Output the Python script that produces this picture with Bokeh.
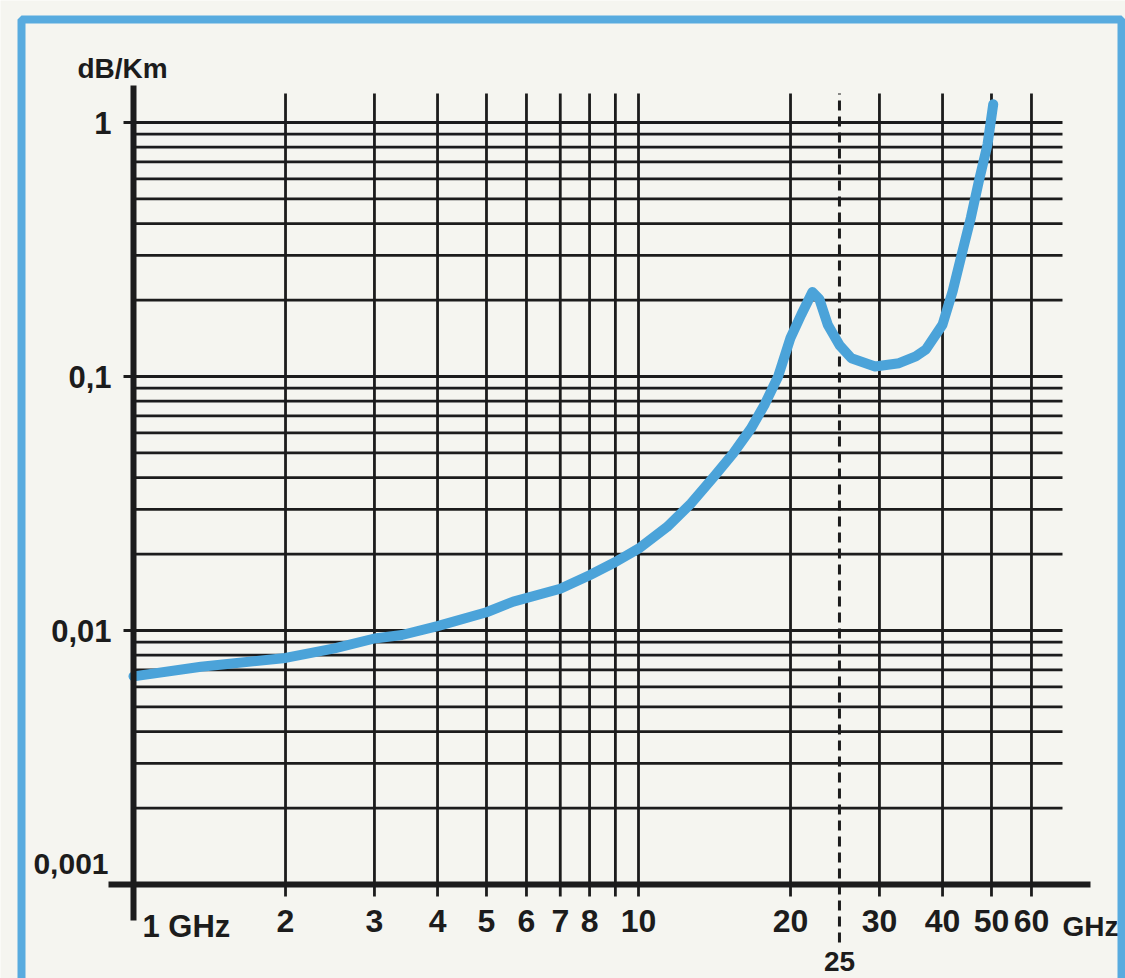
from bokeh.plotting import figure
from bokeh.models import Range1d, LogAxis, FixedTicker, BoxAnnotation, Label
from bokeh.embed import file_html
from bokeh.resources import INLINE

# ---------------- data ----------------
FREQ_GHZ = [1.0, 1.36, 2.0, 2.5, 3.0, 3.4, 4.0, 5.0, 5.65, 7.0, 8.0, 9.0, 10.0,
            11.4, 12.7, 14.1, 15.4, 16.7, 17.8, 18.9, 20.0, 21.0, 22.1, 22.8,
            23.7, 25.0, 26.4, 29.4, 32.8, 35.4, 37.1, 40.0, 41.9, 43.8, 45.5,
            47.2, 49.1, 50.4]
ATTEN_DB_KM = [0.0066, 0.0072, 0.0078, 0.0085, 0.0093, 0.0096, 0.0104, 0.0118,
               0.0130, 0.0146, 0.0165, 0.0186, 0.0210, 0.0256, 0.0316, 0.0403,
               0.0498, 0.0624, 0.078, 0.100, 0.142, 0.175, 0.215, 0.202, 0.160,
               0.133, 0.118, 0.1095, 0.1128, 0.120, 0.128, 0.160, 0.217, 0.311,
               0.421, 0.587, 0.819, 1.18]

X_TICKS = [2, 3, 4, 5, 6, 7, 8, 10, 20, 30, 40, 50, 60]
X_TICK_LABELS = ["2", "3", "4", "5", "6", "7", "8", "10", "20", "30", "40", "50", "60"]
X_GRID = [2, 3, 4, 5, 6, 7, 8, 9, 10, 20, 30, 40, 50, 60]
X_START = 1
X_START_LABEL = "1 GHz"
X_UNIT = "GHz"
MARKED_FREQ = 25
MARKED_LABEL = "25"

Y_TICKS = [1, 0.1, 0.01]
Y_TICK_LABELS = ["1", "0,1", "0,01"]
Y_BOTTOM = 0.001
Y_BOTTOM_LABEL = "0,001"
Y_UNIT = "dB/Km"
Y_GRID = [0.002, 0.003, 0.004, 0.005, 0.006, 0.007, 0.008, 0.009, 0.01,
          0.02, 0.03, 0.04, 0.05, 0.06, 0.07, 0.08, 0.09, 0.1,
          0.2, 0.3, 0.4, 0.5, 0.6, 0.7, 0.8, 0.9, 1.0]

# ---------------- layout / style ----------------
W, H = 1125, 978
AX_X, AX_Y = 133, 884        # canvas px of the 1 GHz axis and the 0.001 axis
DEC_X, DEC_Y = 505, 254      # px per decade


def fx(px):
    return 10 ** ((px - AX_X) / DEC_X)


def fy(py):
    return 10 ** (-3 + (AX_Y - py) / DEC_Y)


BG = "#f5f5f0"
INK = "#1c1c1c"
BLUE = "#4ba3d9"
FRAME_BLUE = "#58abdf"
FONT = "Liberation Sans"

p = figure(width=W, height=H, x_axis_type="log", y_axis_type="log",
           x_range=Range1d(fx(0), fx(W)), y_range=Range1d(fy(H), fy(0)),
           x_axis_location=None, y_axis_location=None,
           toolbar_location=None, output_backend="svg",
           min_border_left=0, min_border_right=0, min_border_top=0, min_border_bottom=0)
p.grid.visible = False
p.outline_line_color = None
p.background_fill_color = BG
p.border_fill_color = BG

# blue frame of the page
p.add_layout(BoxAnnotation(left=fx(21), right=fx(1121), top=fy(19), bottom=fy(1200),
                           fill_alpha=0, fill_color=None,
                           line_color=FRAME_BLUE, line_alpha=1, line_width=8))

# grid
n = len(X_GRID)
p.segment(x0=X_GRID, y0=[fy(896)] * n, x1=X_GRID, y1=[fy(93)] * n,
          line_color=INK, line_width=2.8)
m = len(Y_GRID)
p.segment(x0=[X_START] * m, y0=Y_GRID, x1=[fx(1062)] * m, y1=Y_GRID,
          line_color=INK, line_width=2.8)
p.segment(x0=[MARKED_FREQ], y0=[fy(942)], x1=[MARKED_FREQ], y1=[fy(93)],
          line_color=INK, line_width=3, line_dash="10 6")

# curve
p.line(FREQ_GHZ, ATTEN_DB_KM, line_color=BLUE, line_width=10,
       line_join="round", line_cap="round")

# axes
xaxis = LogAxis(fixed_location=Y_BOTTOM, bounds=(fx(108), fx(1090)),
                ticker=FixedTicker(ticks=X_TICKS),
                major_label_overrides=dict(zip(X_TICKS, X_TICK_LABELS)),
                axis_line_color=INK, axis_line_width=6,
                major_tick_line_color=None, major_tick_out=0, major_tick_in=0,
                minor_tick_line_color=None,
                major_label_standoff=25,
                major_label_text_font=FONT, major_label_text_font_size="32px",
                major_label_text_font_style="bold", major_label_text_color=INK)
p.add_layout(xaxis, "below")

yaxis = LogAxis(fixed_location=X_START, bounds=(fy(920), fy(85)),
                ticker=FixedTicker(ticks=Y_TICKS),
                major_label_overrides=dict(zip(Y_TICKS, Y_TICK_LABELS)),
                axis_line_color=INK, axis_line_width=6,
                major_tick_line_color=INK, major_tick_line_width=3,
                major_tick_out=10, major_tick_in=0,
                minor_tick_line_color=None,
                major_label_standoff=12,
                major_label_text_font=FONT, major_label_text_font_size="31px",
                major_label_text_font_style="bold", major_label_text_color=INK)
p.add_layout(yaxis, "left")


# text labels (vertically centred on the given canvas row)
def lab(x, y, text, size, align="left"):
    p.add_layout(Label(x=x, y=y, text=text, text_font=FONT, text_font_size=size,
                       text_font_style="bold", text_color=INK,
                       text_align=align, text_baseline="middle"))


lab(fx(77), fy(68), Y_UNIT, "28px")
lab(fx(108), fy(863), Y_BOTTOM_LABEL, "30px", align="right")
lab(fx(142), fy(926), X_START_LABEL, "31px")
lab(fx(1062), fy(926), X_UNIT, "28px")
lab(MARKED_FREQ, fy(961), MARKED_LABEL, "28px", align="center")

open("out.html", "w").write(file_html(p, INLINE, title="Attenuation"))
